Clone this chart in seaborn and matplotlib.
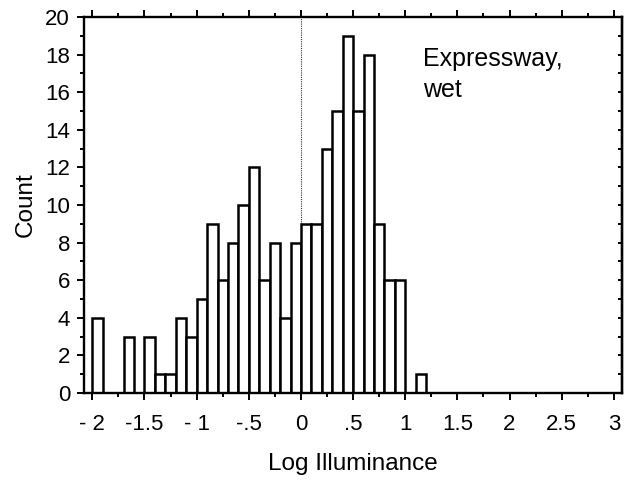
import numpy as np
import matplotlib
matplotlib.use("Agg")
import matplotlib.pyplot as plt
import seaborn as sns

# Data: histogram of log illuminance, bins of width 0.1 starting at -2.0
bin_starts = [-2.0, -1.9, -1.8, -1.7, -1.6, -1.5, -1.4, -1.3, -1.2, -1.1,
              -1.0, -0.9, -0.8, -0.7, -0.6, -0.5, -0.4, -0.3, -0.2, -0.1,
              0.0, 0.1, 0.2, 0.3, 0.4, 0.5, 0.6, 0.7, 0.8, 0.9, 1.0, 1.1]
counts = [4, 0, 0, 3, 0, 3, 1, 1, 4, 3,
          5, 9, 6, 8, 10, 12, 6, 8, 4, 8,
          9, 9, 13, 15, 19, 15, 18, 9, 6, 6, 0, 1]
bin_width = 0.1
x_ticks = [-2, -1.5, -1, -0.5, 0, 0.5, 1, 1.5, 2, 2.5, 3]
x_tick_labels = ["- 2", "-1.5", "- 1", "-.5", "0", ".5", "1", "1.5", "2", "2.5", "3"]
y_ticks = [0, 2, 4, 6, 8, 10, 12, 14, 16, 18, 20]
y_tick_labels = ["0", "2", "4", "6", "8", "10", "12", "14", "16", "18", "20"]
annotation = "Expressway,\nwet"

sns.set_style("ticks")
plt.rcParams["font.family"] = ["Liberation Sans", "DejaVu Sans"]
plt.rcParams["text.color"] = "black"
plt.rcParams["axes.labelcolor"] = "black"
plt.rcParams["xtick.color"] = "black"
plt.rcParams["ytick.color"] = "black"

fig = plt.figure(figsize=(6.34, 4.83), dpi=100)
ax = fig.add_axes([0.1325, 0.1863, 0.848, 0.7785])

centers = [b + bin_width / 2 for b in bin_starts]
edges = [round(b, 2) for b in bin_starts] + [round(bin_starts[-1] + bin_width, 2)]
sns.histplot(x=centers, weights=counts, bins=edges, ax=ax,
             color="white", edgecolor="black", linewidth=1.8, alpha=1)

ax.axvline(0, color="#333333", linestyle=(0, (1, 1)), linewidth=0.8, zorder=0)

ax.set_xlim(-2.08, 3.075)
ax.set_ylim(0, 20)
ax.set_xticks(x_ticks)
ax.set_xticklabels(x_tick_labels)
ax.set_xticks(np.arange(-1.75, 3.0, 0.5), minor=True)
ax.set_yticks(y_ticks)
ax.set_yticklabels(y_tick_labels)
ax.set_yticks(np.arange(1, 20, 2), minor=True)

for s in ax.spines.values():
    s.set_visible(True)
    s.set_linewidth(1.7)
    s.set_color("black")

ax.tick_params(axis="both", which="both", direction="out", color="black",
               labelcolor="black", width=1.4, labelsize=16)
ax.tick_params(axis="both", which="major", length=5)
ax.tick_params(axis="both", which="minor", length=3)
ax.tick_params(axis="x", which="both", top=True, pad=10)
ax.tick_params(axis="y", which="both", right=False, pad=5)

sec = ax.secondary_yaxis("right")
sec.set_yticks(np.arange(0, 21, 1))
sec.tick_params(direction="in", length=3, width=1.4, labelright=False)
sec.spines["right"].set_linewidth(1.7)

ax.set_xlabel("Log Illuminance", fontsize=17.5, labelpad=13)
ax.set_ylabel("Count", fontsize=17.5, labelpad=6)

ax.text(1.17, 16.95, annotation, fontsize=18, ha="left", va="center",
        linespacing=1.35)

fig.savefig("out.png", dpi=100)
